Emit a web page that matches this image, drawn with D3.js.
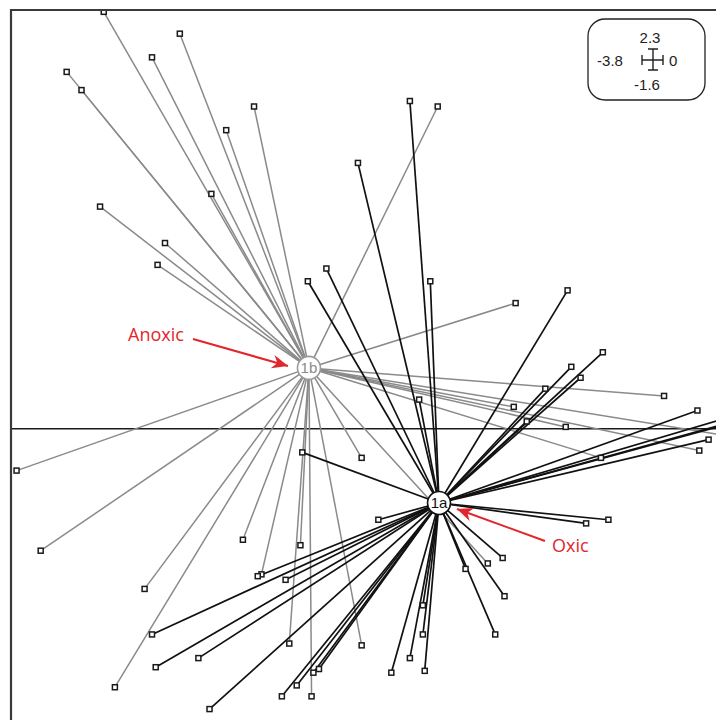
<!DOCTYPE html>
<html>
<head>
<meta charset="utf-8">
<script src="https://cdn.jsdelivr.net/npm/d3@7"></script>
<style>
  body { margin: 0; background: #fff; }
  svg { display: block; font-family: "Liberation Sans", Arial, sans-serif; }
</style>
</head>
<body>
<div id="chart"></div>
<script>
// site scores, anoxic group (spider to centroid 1b)
var anoxicX = [-3.30, -2.89, -3.04, -3.50, -3.42, -2.64, -2.49, -2.72, -3.32, -2.97, -3.01,
               -1.50, -1.08, -0.28, -1.09, -0.81, -0.09, 0.13, -0.62, -1.91, -3.77, -3.64,
               -3.08, -3.24, -2.55, -2.24, -2.45, -2.30, -2.18, -1.91, -1.23]
var anoxicY = [2.29, 2.17, 2.04, 1.96, 1.86, 1.64, 1.77, 1.29, 1.22, 1.02, 0.90,
               1.77, 0.69, 0.18, 0.12, 0.01, -0.12, -0.05, -0.16, -0.16, -0.23, -0.67,
               -0.88, -1.42, -0.61, -0.64, -0.80, -1.18, -1.47, -1.19, -0.74]

// site scores, oxic group (spider to centroid 1a)
var oxicX = [-1.65, -1.93, -2.10, -2.20, -1.54, -1.60, -2.23, -0.80, -0.61, -0.78, -0.73,
             -0.92, -1.02, -0.10, -0.04, 0.16, 0.24, 0.19, -1.82, -0.58, -0.70, -1.15,
             -1.14, -1.19, -1.35, -1.58, -1.58, -1.65, -1.75, -1.57, -2.14, -2.17, -2.26,
             -2.34, -2.32, -2.47, -3.04, -3.02, -2.79, -2.73]
var oxicY = [1.80, 1.46, 0.88, 0.81, 0.81, 0.16, -0.13, 0.76, 0.42, 0.34, 0.28,
             0.22, 0.04, 0.10, -0.06, 0.09, 0.08, 0.06, -0.50, -0.50, -0.52, -0.71,
             -0.92, -1.13, -0.77, -0.97, -1.13, -1.26, -1.34, -1.33, -1.32, -1.34, -1.41,
             -1.47, -0.83, -0.81, -1.13, -1.31, -1.26, -1.54]

var centroidLabels = ["1b", "1a"]
var centroidX = [-2.194, -1.493]
var centroidY = [0.334, -0.408]

var axisExtent = { xmin: -3.8, xmax: 0, ymin: -1.6, ymax: 2.3 }
var legendLabels = ["2.3", "-3.8", "0", "-1.6"]

var width = 716, height = 720
var plot = { left: 11, top: 10, right: 716, bottom: 720 }

var svg = d3.select("#chart")
            .append("svg")
            .attr("width", width)
            .attr("height", height)

var x = d3.scaleLinear()
          .domain([axisExtent.xmin, axisExtent.xmax])
          .range([plot.left, plot.right])
var y = d3.scaleLinear()
          .domain([axisExtent.ymin, axisExtent.ymax])
          .range([plot.bottom, plot.top])

svg.append("clipPath").attr("id", "clip")
   .append("rect")
   .attr("x", plot.left).attr("y", plot.top)
   .attr("width", plot.right - plot.left).attr("height", plot.bottom - plot.top)

var g = svg.append("g").attr("clip-path", "url(#clip)")

// zero line
g.append("line")
 .attr("x1", plot.left).attr("x2", plot.right)
 .attr("y1", y(0)).attr("y2", y(0))
 .attr("stroke", "#1a1a1a").attr("stroke-width", 1.6)

var anoxic = anoxicX.map(function(d, i) { return { x: d, y: anoxicY[i], c: 0 } })
var oxic = oxicX.map(function(d, i) { return { x: d, y: oxicY[i], c: 1 } })
var groupColor = ["#8a8a8a", "#111111"]

function spider(data, cls, w) {
    g.selectAll("." + cls)
     .data(data)
     .enter().append("line")
     .attr("class", cls)
     .attr("x1", function(d) { return x(centroidX[d.c]) })
     .attr("y1", function(d) { return y(centroidY[d.c]) })
     .attr("x2", function(d) { return x(d.x) })
     .attr("y2", function(d) { return y(d.y) })
     .attr("stroke", function(d) { return groupColor[d.c] })
     .attr("stroke-width", w)
}
spider(anoxic, "spoke-anoxic", 1.5)
spider(oxic, "spoke-oxic", 1.7)

// site markers
g.selectAll(".site")
 .data(anoxic.concat(oxic))
 .enter().append("rect")
 .attr("class", "site")
 .attr("x", function(d) { return x(d.x) - 2.5 })
 .attr("y", function(d) { return y(d.y) - 2.5 })
 .attr("width", 5).attr("height", 5)
 .attr("fill", "#fff")
 .attr("stroke", "#1a1a1a")
 .attr("stroke-width", 1.5)

// centroids
var cent = g.selectAll(".centroid")
            .data(centroidLabels)
            .enter().append("g")
            .attr("class", "centroid")
            .attr("transform", function(d, i) { return "translate(" + x(centroidX[i]) + "," + y(centroidY[i]) + ")" })
cent.append("circle")
    .attr("r", 11.5)
    .attr("fill", "#fff")
    .attr("stroke", function(d, i) { return i == 0 ? "#9a9a9a" : "#111" })
    .attr("stroke-width", 1.6)
cent.append("text")
    .attr("text-anchor", "middle")
    .attr("dy", "0.36em")
    .attr("font-size", 15)
    .attr("fill", function(d, i) { return i == 0 ? "#8a8a8a" : "#111" })
    .text(function(d) { return d })

// frame (left and top edges only show)
svg.append("path")
   .attr("d", "M" + plot.left + "," + plot.bottom + "V" + plot.top + "H" + plot.right)
   .attr("fill", "none")
   .attr("stroke", "#3a3a3a")
   .attr("stroke-width", 2.2)

// annotations
var red = "#e2262c"

function callout(label, tx, ty, x1, y1, x2, y2) {
    svg.append("text")
       .attr("x", tx).attr("y", ty)
       .attr("font-family", "'Open Sans', 'Noto Sans', sans-serif")
       .attr("font-size", 18)
       .attr("fill", red)
       .text(label)
    svg.append("line")
       .attr("x1", x1).attr("y1", y1).attr("x2", x2).attr("y2", y2)
       .attr("stroke", red).attr("stroke-width", 2)
    // arrowhead drawn by hand so it stays sharp
    var a = Math.atan2(y2 - y1, x2 - x1), L = 16, W = 7
    var bx = x2 - L * Math.cos(a), by = y2 - L * Math.sin(a)
    var nx = -Math.sin(a), ny = Math.cos(a)
    svg.append("path")
       .attr("d", "M" + x2 + "," + y2 +
                  "L" + (bx + nx * W) + "," + (by + ny * W) +
                  "L" + (x2 - 11 * Math.cos(a)) + "," + (y2 - 11 * Math.sin(a)) +
                  "L" + (bx - nx * W) + "," + (by - ny * W) + "Z")
       .attr("fill", red)
}
callout("Anoxic", 128, 341, 193, 339, 288, 366)
callout("Oxic", 552, 552, 545, 541, 457, 509)

// scale legend
var lg = svg.append("g").attr("transform", "translate(588,19)")
lg.append("rect")
  .attr("width", 117).attr("height", 81)
  .attr("rx", 17).attr("ry", 17)
  .attr("fill", "#fff").attr("stroke", "#222").attr("stroke-width", 1.3)
var lpos = [[62, 24, "middle"], [22, 47, "middle"], [81, 47, "start"], [59, 71, "middle"]]
lg.selectAll(".lab")
  .data(legendLabels)
  .enter().append("text")
  .attr("class", "lab")
  .attr("x", function(d, i) { return lpos[i][0] })
  .attr("y", function(d, i) { return lpos[i][1] })
  .attr("text-anchor", function(d, i) { return lpos[i][2] })
  .attr("font-size", 15)
  .attr("fill", "#222")
  .text(function(d) { return d })
var cx = 65, cy = 41
lg.append("path")
  .attr("d", "M" + (cx - 11) + "," + cy + "H" + (cx + 10) +
             "M" + cx + "," + (cy - 11) + "V" + (cy + 10) +
             "M" + (cx - 11) + "," + (cy - 5) + "V" + (cy + 5) +
             "M" + (cx + 10) + "," + (cy - 5) + "V" + (cy + 5) +
             "M" + (cx - 5) + "," + (cy - 11) + "H" + (cx + 5) +
             "M" + (cx - 5) + "," + (cy + 10) + "H" + (cx + 5))
  .attr("stroke", "#222").attr("stroke-width", 1.4).attr("fill", "none")
</script>
</body>
</html>
